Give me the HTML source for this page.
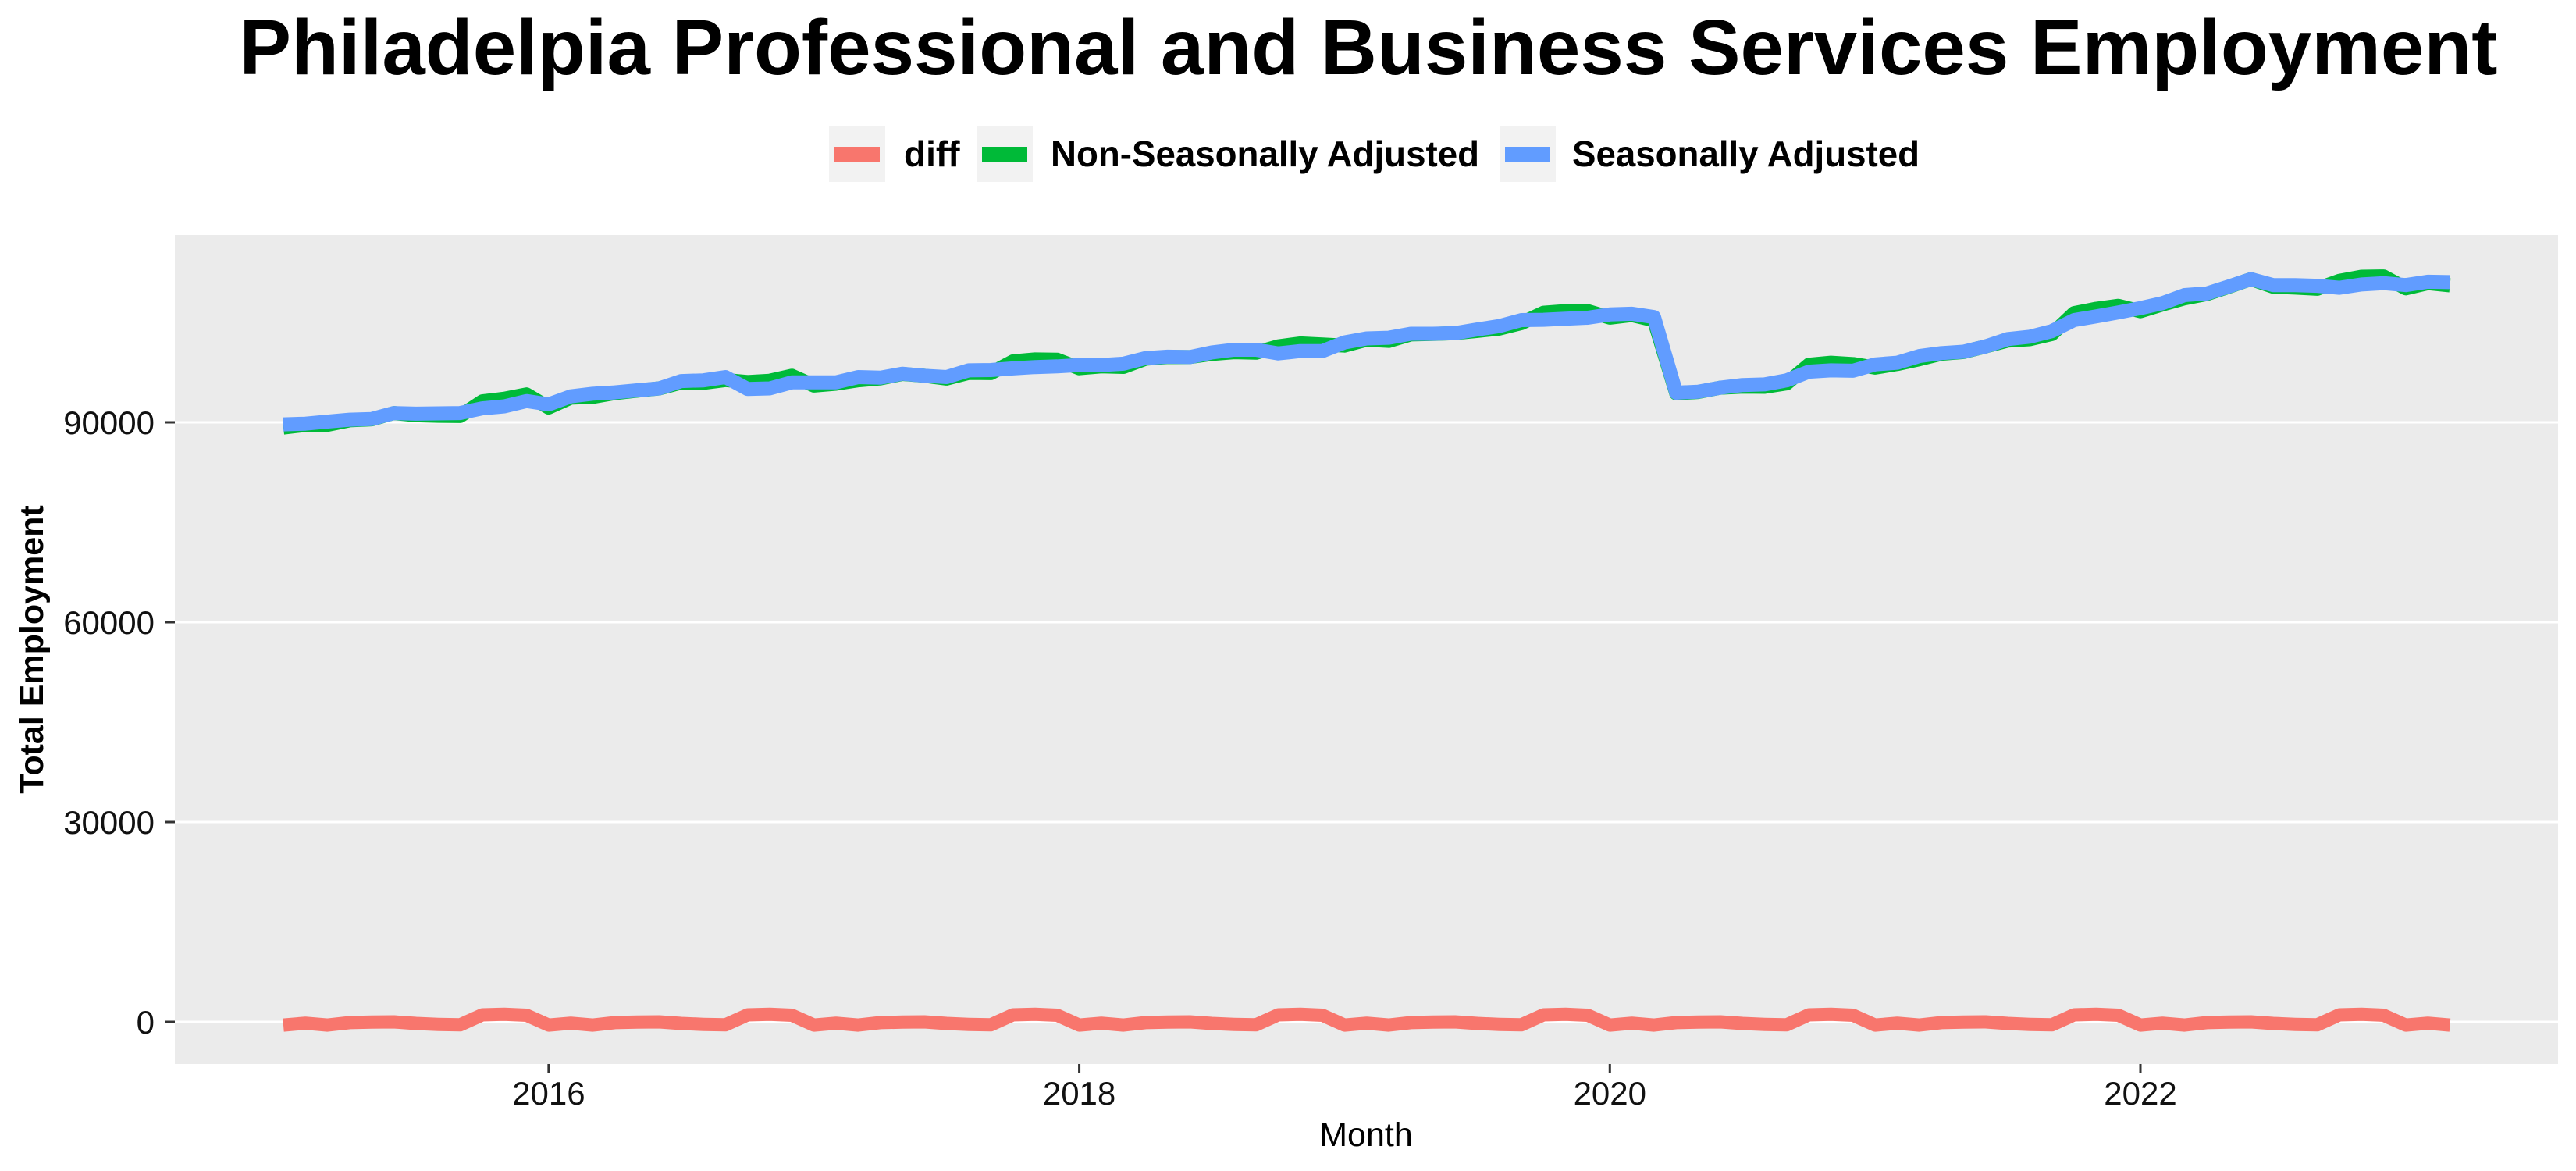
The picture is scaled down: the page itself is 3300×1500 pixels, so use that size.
<!DOCTYPE html>
<html>
<head>
<meta charset="utf-8">
<style>
html,body{margin:0;padding:0;background:#fff;}
svg{display:block;font-family:"Liberation Sans",Arial,sans-serif;}
</style>
</head>
<body>
<svg id="chart" width="3300" height="1500" viewBox="0 0 3300 1500" xmlns="http://www.w3.org/2000/svg">
  <rect x="0" y="0" width="3300" height="1500" fill="#ffffff"/>
  <text x="1753" y="95" text-anchor="middle" font-size="100" font-weight="bold" fill="#000" textLength="2893" lengthAdjust="spacingAndGlyphs">Philadelpia Professional and Business Services Employment</text>

  <g>
    <g>
      <rect x="1062" y="161" width="72" height="72" fill="#F2F2F2"/>
      <rect x="1069" y="188" width="58" height="19" fill="#F8766D"/>
      <text x="1158" y="213" font-size="46" font-weight="bold" fill="#000">diff</text>
    </g>
    <g>
      <rect x="1251" y="161" width="72" height="72" fill="#F2F2F2"/>
      <rect x="1258" y="188" width="58" height="19" fill="#00BA38"/>
      <text x="1346" y="213" font-size="46" font-weight="bold" fill="#000" textLength="549" lengthAdjust="spacingAndGlyphs">Non-Seasonally Adjusted</text>
    </g>
    <g>
      <rect x="1921" y="161" width="72" height="72" fill="#F2F2F2"/>
      <rect x="1928" y="188" width="58" height="19" fill="#619CFF"/>
      <text x="2014" y="213" font-size="46" font-weight="bold" fill="#000" textLength="445" lengthAdjust="spacingAndGlyphs">Seasonally Adjusted</text>
    </g>
  </g>

  <rect x="224" y="301" width="3053" height="1062" fill="#EBEBEB"/>
  <g id="grid"></g>
  <g id="yaxis"></g>
  <g id="xaxis"></g>
  <g id="series"></g>

  <text x="1750" y="1468" text-anchor="middle" font-size="43" fill="#000">Month</text>
  <text transform="translate(55,832) rotate(-90)" text-anchor="middle" font-size="43" font-weight="bold" fill="#000">Total Employment</text>
</svg>
<script>
const startYear = 2015;
const yTicks = [0, 30000, 60000, 90000];
const xTickYears = [2016, 2018, 2020, 2022];
const saValues = [
89700,89800,90100,90400,90500,91400,91300,91350,91400,92100,92400,93200,
92700,93900,94300,94500,94800,95100,96200,96300,96800,95000,95100,96000,
96000,96000,96800,96700,97300,97000,96800,97800,97850,98100,98300,98400,
98600,98600,98800,99650,99850,99800,100500,100900,100900,100350,100700,100700,
102000,102600,102700,103300,103300,103400,103950,104450,105350,105400,105550,105700,
106200,106300,105800,94450,94600,95200,95600,95700,96300,97600,97800,97750,
98700,98950,99950,100400,100600,101400,102500,102850,103700,105350,105900,106500,
107150,107900,109100,109350,110400,111500,110600,110600,110500,110200,110700,110900,
110600,111100,111050];
const nsaValues = [
89220,89600,89620,90300,90460,91400,91070,90980,90950,93150,93550,94200,
92220,93700,93820,94400,94760,95100,95970,95930,96350,96050,96250,97000,
95520,95800,96320,96600,97260,97000,96570,97430,97400,99150,99450,99400,
98120,98400,98320,99550,99810,99800,100270,100530,100450,101400,101850,101700,
101520,102400,102220,103200,103260,103400,103720,104080,104900,106450,106700,106700,
105720,106100,105320,94350,94560,95200,95370,95330,95850,98650,98950,98750,
98220,98750,99470,100300,100560,101400,102270,102480,103250,106400,107050,107500,
106670,107700,108620,109250,110360,111500,110370,110230,110050,111250,111850,111900,
110120,110900,110570];
const diffValues = [
-480,-200,-480,-100,-40,0,-230,-370,-450,1050,1150,1000,
-480,-200,-480,-100,-40,0,-230,-370,-450,1050,1150,1000,
-480,-200,-480,-100,-40,0,-230,-370,-450,1050,1150,1000,
-480,-200,-480,-100,-40,0,-230,-370,-450,1050,1150,1000,
-480,-200,-480,-100,-40,0,-230,-370,-450,1050,1150,1000,
-480,-200,-480,-100,-40,0,-230,-370,-450,1050,1150,1000,
-480,-200,-480,-100,-40,0,-230,-370,-450,1050,1150,1000,
-480,-200,-480,-100,-40,0,-230,-370,-450,1050,1150,1000,
-480,-200,-480];

const NS = 'http://www.w3.org/2000/svg';
function xScale(i){ return 363 + i * (2742 - 363) / 84; }
function yScale(v){ return 1309 - v * 768 / 90000; }
function mk(tag, attrs, parent){
  const el = document.createElementNS(NS, tag);
  for (const k in attrs) el.setAttribute(k, attrs[k]);
  parent.appendChild(el);
  return el;
}
const grid = document.getElementById('grid');
const yaxis = document.getElementById('yaxis');
const xaxis = document.getElementById('xaxis');
const series = document.getElementById('series');

yTicks.forEach(function(t){
  const y = yScale(t);
  const g = mk('line', {x1:224, x2:3277, y1:y, y2:y, stroke:'#ffffff', 'stroke-width':3}, grid);
  
  
  const tk = mk('line', {x1:212, x2:224, y1:y, y2:y, stroke:'#333333', 'stroke-width':3}, yaxis);
  
  
  const lb = mk('text', {x:198, y:y+15, 'text-anchor':'end', 'font-size':42, fill:'#111'}, yaxis);
  
  
  lb.textContent = String(t);
});

xTickYears.forEach(function(yr){
  const x = xScale((yr - startYear) * 12);
  const tk = mk('line', {x1:x, x2:x, y1:1363, y2:1375, stroke:'#333333', 'stroke-width':3}, xaxis);
  
  
  const lb = mk('text', {x:x, y:1415, 'text-anchor':'middle', 'font-size':42, fill:'#111'}, xaxis);
  
  
  lb.textContent = String(yr);
});

function pathFor(vals){
  return vals.map(function(v, i){ return (i ? 'L' : 'M') + xScale(i).toFixed(1) + ',' + yScale(v).toFixed(1); }).join(' ');
}
const pd = mk('path', {d:pathFor(diffValues), fill:'none', stroke:'#F8766D', 'stroke-width':17, 'stroke-linejoin':'round'}, series);


const pn = mk('path', {d:pathFor(nsaValues), fill:'none', stroke:'#00BA38', 'stroke-width':18, 'stroke-linejoin':'round'}, series);


const ps = mk('path', {d:pathFor(saValues), fill:'none', stroke:'#619CFF', 'stroke-width':18, 'stroke-linejoin':'round'}, series);


</script>
</body>
</html>
